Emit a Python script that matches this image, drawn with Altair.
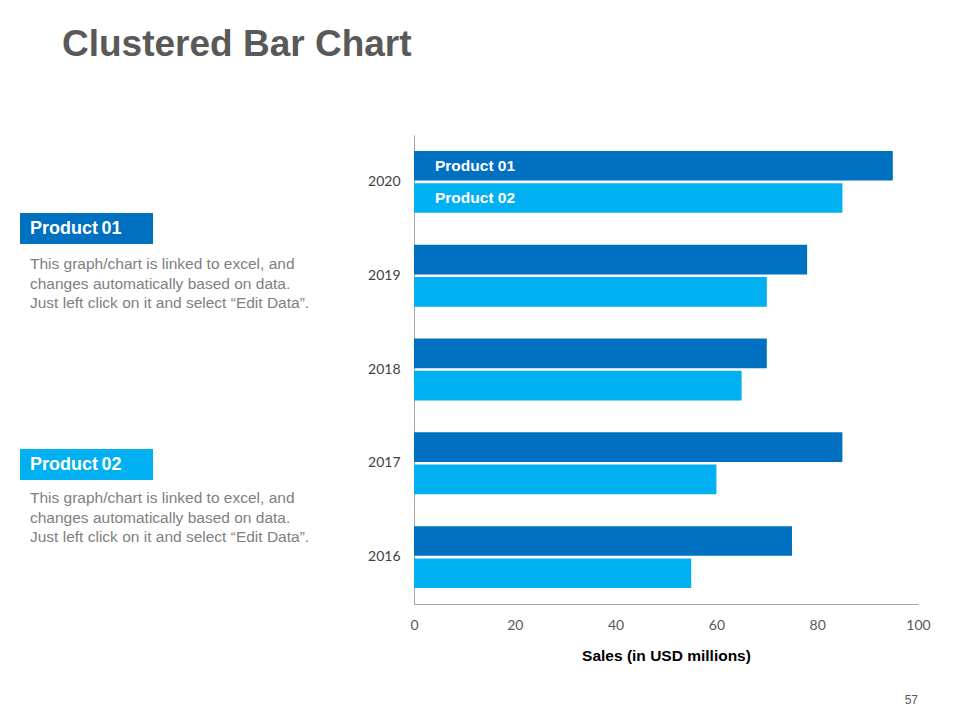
import altair as alt
import pandas as pd

years = ["2016", "2017", "2018", "2019", "2020"]
product01 = [75, 85, 70, 78, 95]
product02 = [55, 60, 65, 70, 85]
products = ["Product 01", "Product 02"]
box_labels = ["Product\u200901", "Product\u200902"]
x_ticks = [0, 20, 40, 60, 80, 100]
desc_lines = [
    "This graph/chart is linked to excel, and",
    "changes automatically based on data.",
    "Just left click on it and select \u201cEdit Data\u201d.",
]

rows = []
for i, y in enumerate(years):
    rows.append({"Year": y, "Product": products[0], "Sales": product01[i]})
    rows.append({"Year": y, "Product": products[1], "Sales": product02[i]})
df = pd.DataFrame(rows)

DARK = "#0070C0"
LIGHT = "#00B0F0"
FONT = "Liberation Sans"

y_order = years[::-1]

ysc = alt.Scale(domain=y_order, paddingInner=0.34, paddingOuter=0.17)
yoff = alt.Scale(domain=products, paddingInner=0.08)
color = alt.Scale(domain=products, range=[DARK, LIGHT])

bars = alt.Chart(df).mark_bar().encode(
    x=alt.X("Sales:Q", scale=alt.Scale(domain=[0, 100], nice=False),
            axis=alt.Axis(values=x_ticks, title="Sales (in USD millions)", grid=False,
                          ticks=False, domainColor="#a6a6a6", labelColor="#595959",
                          labelFont="Lato", labelFontSize=14, labelPadding=14,
                          labelFlush=False,
                          titleFont=FONT, titleFontSize=15.5, titleFontWeight="bold",
                          titleColor="#000000", titlePadding=16)),
    y=alt.Y("Year:N", sort=y_order, scale=ysc,
            axis=alt.Axis(title=None, ticks=False, domainColor="#a6a6a6",
                          labelColor="#404040", labelFont="Lato", labelFontSize=14,
                          labelPadding=14)),
    yOffset=alt.YOffset("Product:N", scale=yoff, sort=products),
    color=alt.Color("Product:N", scale=color, legend=None),
)

inlabels = alt.Chart(df[df["Year"] == "2020"]).mark_text(
    align="left", baseline="middle", color="white", font=FONT,
    fontWeight="bold", fontSize=15.5
).encode(
    x=alt.value(21),
    y=alt.Y("Year:N", sort=y_order, scale=ysc),
    yOffset=alt.YOffset("Product:N", scale=yoff, sort=products),
    text="Product:N",
)

# Page coordinate helpers (plot origin at page (414,135))
OX, OY = 414, 135


def px(x):
    return x - OX


def py(y):
    return y - OY


title = alt.Chart(pd.DataFrame({"t": ["Clustered Bar Chart"]})).mark_text(
    align="left", baseline="middle", font=FONT, fontWeight="bold",
    fontSize=37, color="#595959"
).encode(x=alt.value(px(62)), y=alt.value(py(45)), text="t:N")

box_df = pd.DataFrame({"name": products, "label": box_labels,
                       "y1": [py(213), py(449)],
                       "y2": [py(244), py(480)], "yc": [py(229), py(465)]})

boxes = alt.Chart(box_df).mark_rect().encode(
    x=alt.value(px(20)), x2=alt.value(px(153)),
    y=alt.Y("y1:Q", scale=None), y2="y2:Q",
    color=alt.Color("name:N", scale=color, legend=None),
)
box_text = alt.Chart(box_df).mark_text(
    align="left", baseline="middle", font=FONT, fontWeight="bold",
    fontSize=18, color="white"
).encode(x=alt.value(px(30)), y=alt.Y("yc:Q", scale=None), text="label:N")

desc_rows = []
for base in (264, 498):
    for j, line in enumerate(desc_lines):
        desc_rows.append({"line": line, "y": py(base + j * 19.5)})
desc_df = pd.DataFrame(desc_rows)
desc = alt.Chart(desc_df).mark_text(
    align="left", baseline="middle", font=FONT, fontSize=15.5, color="#808080"
).encode(x=alt.value(px(30)), y=alt.Y("y:Q", scale=None), text="line:N")

pagenum = alt.Chart(pd.DataFrame({"t": ["57"]})).mark_text(
    align="right", baseline="middle", font=FONT, fontSize=12, color="#595959"
).encode(x=alt.value(px(918)), y=alt.value(py(700)), text="t:N")

chart = alt.layer(bars, inlabels, title, boxes, box_text, desc, pagenum).properties(
    width=504, height=469,
    background="white",
    autosize=alt.AutoSizeParams(type="none"),
    padding={"left": OX - 8, "top": OY - 8, "right": 30, "bottom": 110},
).configure_view(stroke="transparent", strokeWidth=0)

chart.save("out.html", embed_options={"renderer": "svg", "actions": False})
